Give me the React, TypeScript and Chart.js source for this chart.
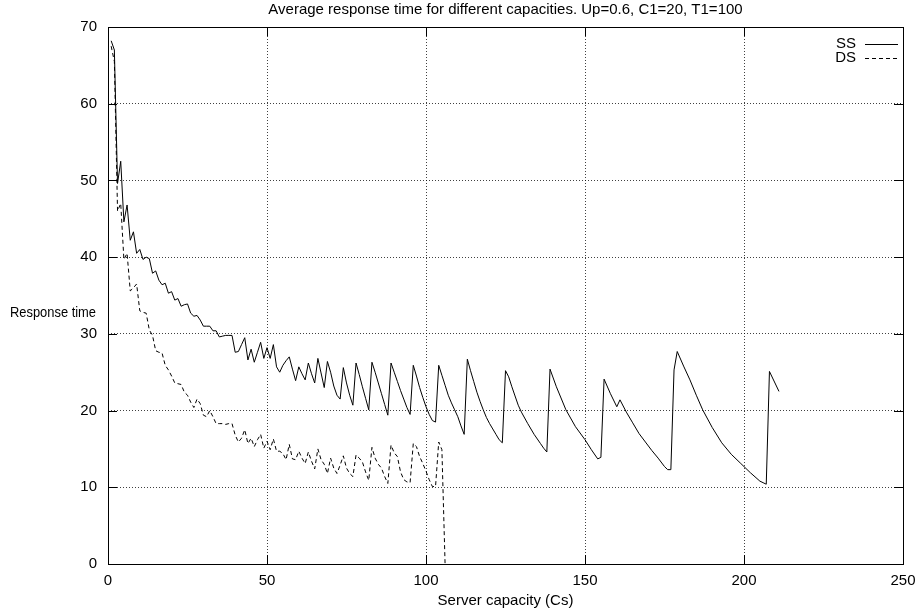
import React, { useEffect, useRef } from "react";
import { Chart, registerables } from "chart.js";

Chart.register(...registerables);

const TITLE = "Average response time for different capacities. Up=0.6, C1=20, T1=100";
const X_LABEL = "Server capacity (Cs)";
const Y_LABEL = "Response time";
const SERIES_NAMES = ["SS", "DS"];

const X_MIN = 0;
const X_MAX = 250;
const X_STEP = 50;
const Y_MIN = 0;
const Y_MAX = 70;
const Y_STEP = 10;
const X_TICK_LABELS = ["0", "50", "100", "150", "200", "250"];
const Y_TICK_LABELS = ["0", "10", "20", "30", "40", "50", "60", "70"];

const SS_X = [
  1, 2, 3, 4, 5, 6, 7, 8, 9, 10, 11, 12, 13, 14, 15, 16, 17, 18, 19, 20,
  21, 22, 23, 24, 25, 26, 27, 28, 29, 30, 31, 32, 33, 34, 35, 36, 37, 38, 39, 40,
  41, 42, 43, 44, 45, 46, 47, 48, 49, 50, 51, 52, 53, 54, 55, 56, 57, 58, 59, 60,
  61, 62, 63, 64, 65, 66, 67, 68, 69, 70, 71, 72, 73, 74, 75, 76, 77, 78, 79, 80,
  81, 82, 83, 84, 85, 86, 87, 88, 89, 90, 91, 92, 93, 94, 95, 96, 97, 98, 99, 100,
  101, 102, 103, 104, 105, 106, 107, 108, 109, 110, 111, 112, 113, 114, 115, 116, 117, 118, 119, 120,
  121, 122, 123, 124, 125, 126, 127, 128, 129, 130, 132, 134, 136, 137, 138, 139, 141, 144, 147, 150,
  152, 154, 155, 156, 158, 160, 161, 163, 165, 167, 169, 171, 173, 175, 176, 177, 178, 179, 181, 183,
  185, 187, 190, 193, 196, 199, 202, 205, 206, 207, 208, 211,
];
const SS_Y = [
  68.2, 67.0, 49.6, 52.5, 44.6, 46.8, 42.2, 43.3, 40.5, 41.0, 39.7, 40.0, 39.8, 37.9, 38.2, 37.0, 36.4, 36.6, 35.3, 35.5,
  34.4, 34.6, 33.6, 33.8, 33.9, 32.7, 32.3, 32.4, 31.8, 31.0, 31.0, 31.0, 30.4, 30.4, 29.6, 29.7, 29.8, 29.8, 29.8, 27.6,
  27.7, 28.6, 29.5, 26.6, 28.0, 26.3, 27.6, 28.9, 26.8, 28.2, 26.8, 28.6, 25.7, 25.0, 25.9, 26.5, 27.0, 25.4, 23.9, 25.7,
  24.8, 24.0, 26.2, 24.8, 23.6, 26.8, 24.9, 23.0, 26.4, 25.0, 23.2, 22.0, 21.5, 25.6, 23.6, 22.0, 20.7, 26.2, 24.7, 23.1,
  21.6, 20.1, 26.3, 25.0, 23.6, 22.2, 20.8, 19.4, 26.2, 25.0, 23.8, 22.6, 21.5, 20.4, 19.5, 25.9, 24.5, 23.0, 21.7, 20.5,
  19.5, 18.7, 18.5, 25.9, 24.6, 23.3, 22.0, 21.0, 20.1, 19.2, 18.0, 16.9, 26.7, 25.2, 23.8, 22.4, 21.2, 20.1, 19.1, 18.3,
  17.6, 16.9, 16.2, 15.8, 25.2, 24.4, 23.1, 21.9, 20.7, 19.8, 18.3, 16.9, 15.7, 15.1, 14.6, 25.4, 23.1, 20.1, 17.9, 16.2,
  14.9, 13.7, 13.9, 24.1, 22.2, 20.5, 21.4, 19.8, 18.4, 17.0, 15.9, 14.8, 13.8, 12.7, 12.3, 12.3, 25.3, 27.7, 25.8, 24.0,
  22.0, 20.1, 17.8, 15.8, 14.3, 13.1, 11.9, 10.8, 10.6, 10.4, 25.1, 22.5,
];

const DS_X = [
  1, 2, 3, 4, 5, 6, 7, 8, 9, 10, 11, 12, 13, 14, 15, 16, 17, 18, 19, 20,
  21, 22, 23, 24, 25, 26, 27, 28, 29, 30, 31, 32, 33, 34, 35, 36, 37, 38, 39, 40,
  41, 42, 43, 44, 45, 46, 47, 48, 49, 50, 51, 52, 53, 54, 55, 56, 57, 58, 59, 60,
  61, 62, 63, 64, 65, 66, 67, 68, 69, 70, 71, 72, 73, 74, 75, 76, 77, 78, 79, 80,
  81, 82, 83, 84, 85, 86, 87, 88, 89, 90, 91, 92, 93, 94, 95, 96, 97, 98, 99, 100,
  101, 102, 103, 104, 105, 106,
];
const DS_Y = [
  67.5, 65.5, 46.0, 47.0, 39.7, 40.5, 35.6, 36.0, 36.5, 33.0, 32.8, 32.7, 30.5, 29.8, 27.8, 27.6, 27.5, 25.9, 25.3, 24.5,
  23.6, 23.5, 23.4, 22.4, 22.0, 21.1, 20.4, 21.5, 20.9, 19.4, 19.2, 20.0, 19.2, 18.3, 18.3, 18.3, 18.2, 18.3, 18.3, 16.8,
  15.9, 16.4, 17.5, 15.7, 16.4, 15.3, 16.2, 16.9, 15.1, 16.0, 14.9, 16.3, 14.7, 14.7, 14.4, 13.6, 15.6, 13.7, 13.6, 14.7,
  13.8, 13.1, 14.6, 13.4, 12.4, 15.0, 13.6, 13.0, 11.8, 13.8, 12.5, 11.8, 12.9, 14.1, 12.5, 11.8, 11.4, 14.2, 13.8, 13.3,
  12.0, 10.9, 15.2, 13.8, 13.0, 12.5, 11.4, 10.5, 15.5, 14.5, 14.0, 12.0, 11.0, 10.7, 10.6, 15.7, 15.3, 14.0, 13.1, 12.1,
  11.0, 10.1, 10.1, 15.9, 14.9, 0.0,
];

const FONT = "'Liberation Sans', Arial, Helvetica, sans-serif";
const FONT_SIZE = 15;

function drawText(ctx: any, text: string, x: number, y: number, align: string, sx = 1) {
  ctx.save();
  ctx.translate(x, y);
  ctx.scale(sx, 1);
  ctx.textAlign = align;
  ctx.textBaseline = "middle";
  ctx.fillText(text, 0, 0);
  ctx.restore();
}

const gnuplotDecor = {
  id: "gnuplotDecor",
  afterDraw(chart: any) {
    const { ctx, chartArea } = chart;
    const { left, right, top, bottom } = chartArea;
    const xs = chart.scales.x;
    const ys = chart.scales.y;
    ctx.save();
    ctx.strokeStyle = "#000";
    ctx.lineWidth = 1;
    ctx.setLineDash([]);
    const TL = 9;
    ctx.beginPath();
    for (let v = Y_MIN; v <= Y_MAX; v += Y_STEP) {
      const py = Math.round(ys.getPixelForValue(v)) + 0.5;
      ctx.moveTo(left, py);
      ctx.lineTo(left + TL, py);
      ctx.moveTo(right, py);
      ctx.lineTo(right - TL, py);
    }
    for (let v = X_MIN; v <= X_MAX; v += X_STEP) {
      const px = Math.round(xs.getPixelForValue(v)) + 0.5;
      ctx.moveTo(px, bottom);
      ctx.lineTo(px, bottom - TL);
      ctx.moveTo(px, top);
      ctx.lineTo(px, top + TL);
    }
    ctx.stroke();
    ctx.strokeRect(Math.round(left) + 0.5, Math.round(top) + 0.5, Math.round(right - left), Math.round(bottom - top));

    ctx.fillStyle = "#000";
    ctx.font = `${FONT_SIZE}px ${FONT}`;
    // tick labels
    Y_TICK_LABELS.forEach((lab, i) => {
      const py = ys.getPixelForValue(Y_MIN + i * Y_STEP);
      drawText(ctx, lab, left - 11, py, "right");
    });
    X_TICK_LABELS.forEach((lab, i) => {
      const px = xs.getPixelForValue(X_MIN + i * X_STEP);
      drawText(ctx, lab, px, bottom + 17, "center");
    });
    drawText(ctx, TITLE, (left + right) / 2, 10, "center");
    drawText(ctx, X_LABEL, (left + right) / 2, 601, "center");
    drawText(ctx, Y_LABEL, 10, 313, "left", 0.86);

    const styles = [[], [4, 3]];
    SERIES_NAMES.forEach((name, i) => {
      const ly = 44 + i * 14;
      drawText(ctx, name, 856, ly, "right");
      ctx.beginPath();
      ctx.setLineDash(styles[i]);
      ctx.moveTo(865, ly + 0.5);
      ctx.lineTo(898, ly + 0.5);
      ctx.stroke();
    });
    ctx.restore();
  },
};

export default function App() {
  const ref = useRef<HTMLCanvasElement | null>(null);
  useEffect(() => {
    if (!ref.current) return;
    const ss = SS_X.map((x, i) => ({ x, y: SS_Y[i] }));
    const ds = DS_X.map((x, i) => ({ x, y: DS_Y[i] }));
    const chart = new Chart(ref.current, {
      type: "line",
      data: {
        datasets: [
          {
            label: SERIES_NAMES[0],
            data: ss,
            borderColor: "#000",
            borderWidth: 1,
            pointRadius: 0,
            tension: 0,
            fill: false,
          },
          {
            label: SERIES_NAMES[1],
            data: ds,
            borderColor: "#000",
            borderWidth: 1,
            borderDash: [4, 3],
            pointRadius: 0,
            tension: 0,
            fill: false,
          },
        ],
      },
      options: {
        responsive: false,
        animation: false,
        events: [],
        layout: { padding: { left: 0, top: 27, right: 19, bottom: 0 } },
        plugins: {
          legend: { display: false },
          title: { display: false },
          tooltip: { enabled: false },
        },
        scales: {
          x: {
            type: "linear",
            min: X_MIN,
            max: X_MAX,
            ticks: { stepSize: X_STEP, display: false },
            grid: { color: "rgba(0,0,0,0.75)", lineWidth: 1, drawTicks: false },
            border: { display: false, dash: [1, 2] },
            afterFit: (s: any) => {
              s.height = 50;
            },
          },
          y: {
            type: "linear",
            min: Y_MIN,
            max: Y_MAX,
            ticks: { stepSize: Y_STEP, display: false },
            grid: { color: "rgba(0,0,0,0.75)", lineWidth: 1, drawTicks: false },
            border: { display: false, dash: [1, 2] },
            afterFit: (s: any) => {
              s.width = 108;
            },
          },
        },
      },
      plugins: [gnuplotDecor],
    });
    return () => chart.destroy();
  }, []);
  return (
    <div style={{ position: "fixed", left: 0, top: 0, width: 922, height: 614, background: "#fff" }}>
      <canvas ref={ref} width={922} height={614} style={{ display: "block" }} />
    </div>
  );
}
